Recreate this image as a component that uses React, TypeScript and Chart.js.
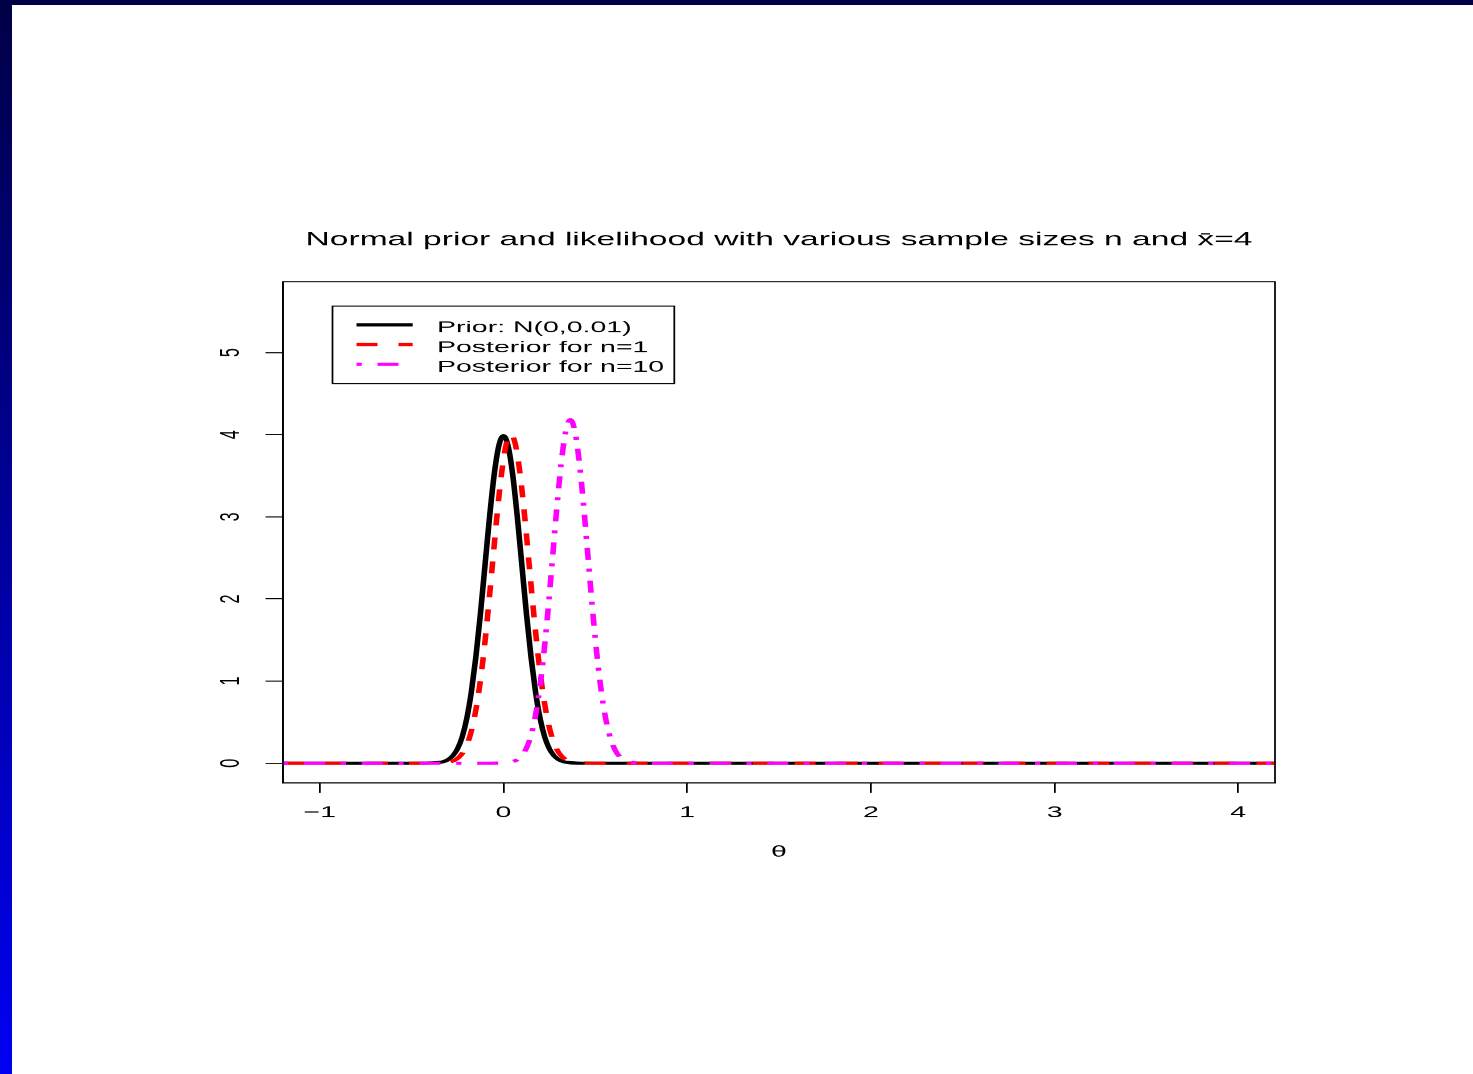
import React, { useEffect, useRef } from "react";
import { Chart, registerables } from "chart.js";

Chart.register(...registerables);

// ---------- data ----------
const xTickValues = [-1, 0, 1, 2, 3, 4];
const yTickValues = [0, 1, 2, 3, 4, 5];

const seriesLabels = ["Prior: N(0,0.01)", "Posterior for n=1", "Posterior for n=10"];
const titleText = "Normal prior and likelihood with various sample sizes n and x\u0304=4";
const xAxisTitle = "\u03b8";

const priorX = [-1.2, -0.45, -0.4, -0.35, -0.325, -0.3, -0.275, -0.25, -0.225, -0.2, -0.175, -0.15, -0.125, -0.1, -0.075, -0.05, -0.025, 0, 0.025, 0.05, 0.075, 0.1, 0.125, 0.15, 0.175, 0.2, 0.225, 0.25, 0.275, 0.3, 0.325, 0.35, 0.4, 0.45, 4.2];
const priorY = [0, 0, 0.0013, 0.0087, 0.02, 0.044, 0.091, 0.175, 0.317, 0.54, 0.863, 1.295, 1.826, 2.42, 3.011, 3.521, 3.866, 3.989, 3.866, 3.521, 3.011, 2.42, 1.826, 1.295, 0.863, 0.54, 0.317, 0.175, 0.091, 0.044, 0.02, 0.0087, 0.0013, 0, 0];

const post1X = [-1.2, -0.41, -0.36, -0.31, -0.285, -0.26, -0.235, -0.21, -0.185, -0.16, -0.135, -0.11, -0.085, -0.06, -0.035, -0.01, 0.015, 0.04, 0.065, 0.09, 0.115, 0.14, 0.165, 0.19, 0.215, 0.24, 0.265, 0.29, 0.315, 0.34, 0.365, 0.39, 0.44, 0.49, 4.2];
const post1Y = [0, 0, 0.0012, 0.0083, 0.0193, 0.0426, 0.088, 0.171, 0.311, 0.532, 0.854, 1.287, 1.821, 2.42, 3.018, 3.534, 3.884, 4.009, 3.884, 3.534, 3.018, 2.42, 1.821, 1.287, 0.854, 0.532, 0.311, 0.171, 0.088, 0.0426, 0.0193, 0.0083, 0.0012, 0, 0];

const post10X = [-1.2, -0.086, -0.036, 0.014, 0.039, 0.064, 0.089, 0.114, 0.139, 0.164, 0.189, 0.214, 0.239, 0.264, 0.289, 0.314, 0.339, 0.364, 0.389, 0.414, 0.439, 0.464, 0.489, 0.514, 0.539, 0.564, 0.589, 0.614, 0.639, 0.664, 0.689, 0.714, 0.764, 0.814, 4.2];
const post10Y = [0, 0, 0.0006, 0.005, 0.0125, 0.0296, 0.0655, 0.134, 0.259, 0.464, 0.776, 1.214, 1.772, 2.414, 3.071, 3.646, 4.043, 4.184, 4.043, 3.646, 3.071, 2.414, 1.772, 1.214, 0.776, 0.464, 0.259, 0.134, 0.0655, 0.0296, 0.0125, 0.005, 0.0006, 0, 0];

// ---------- layout ----------
const PAGE_W = 1473;
const PAGE_H = 1074;
const LW = 842; // logical width, stretched horizontally
const SX = PAGE_W / LW;
const FONT = '"Liberation Sans", Arial, Helvetica, sans-serif';

const AREA_LEFT = 283 / SX;
const AREA_RIGHT = 1275 / SX;
const AREA_TOP = 281.5;
const AREA_BOTTOM = 782.5;
const Y_AXIS_W = 60;
const X_AXIS_H = 90;
const TITLE_SIZE = 19.2;
const TITLE_LH = 1.2;
const TITLE_CENTER_Y = 240;
const TICK_SIZE = 16.3;
const LEGEND_SIZE = 16.3;

const toPts = (xs: number[], ys: number[]) => xs.map((x, i) => ({ x, y: ys[i] }));
const fmtTick = (v: number) => (v < 0 ? "\u2212" + Math.abs(v) : String(v));

const boxPlugin = {
  id: "rbox",
  afterDraw(chart: any) {
    const { ctx, chartArea } = chart;
    ctx.save();
    ctx.strokeStyle = "#000";
    ctx.lineWidth = 1;
    ctx.setLineDash([]);
    ctx.strokeRect(chartArea.left, chartArea.top, chartArea.right - chartArea.left, chartArea.bottom - chartArea.top);
    ctx.restore();
  },
};

const legendPlugin = {
  id: "rlegend",
  afterDraw(chart: any) {
    const ctx = chart.ctx;
    const l = 332.5 / SX, r = 674.3 / SX, t = 306, b = 383.5;
    ctx.save();
    ctx.setLineDash([]);
    ctx.strokeStyle = "#000";
    ctx.lineWidth = 1;
    ctx.strokeRect(l, t, r - l, b - t);
    chart.data.datasets.forEach((ds: any, i: number) => {
      const base = 332.3 + i * 19.7;
      const ly = base - 7.6;
      ctx.beginPath();
      ctx.setLineDash(ds.borderDash || []);
      ctx.lineWidth = ds.borderWidth;
      ctx.strokeStyle = ds.borderColor;
      ctx.lineCap = "butt";
      ctx.moveTo(356.5 / SX, ly);
      ctx.lineTo(412.7 / SX, ly);
      ctx.stroke();
      ctx.setLineDash([]);
      ctx.fillStyle = "#000";
      ctx.font = `${LEGEND_SIZE}px ${FONT}`;
      ctx.textAlign = "left";
      ctx.textBaseline = "alphabetic";
      ctx.fillText(ds.label, 437 / SX, base);
    });
    ctx.restore();
  },
};

export default function App() {
  const canvasRef = useRef<HTMLCanvasElement | null>(null);

  useEffect(() => {
    if (!canvasRef.current) return;
    const chart = new Chart(canvasRef.current, {
      type: "line",
      data: {
        datasets: [
          {
            label: seriesLabels[0],
            data: toPts(priorX, priorY),
            borderColor: "#000000",
            borderWidth: 3.2,
            borderDash: [],
            pointRadius: 0,
            cubicInterpolationMode: "monotone",
            clip: 0,
            order: 3,
          },
          {
            label: seriesLabels[1],
            data: toPts(post1X, post1Y),
            borderColor: "#ff0000",
            borderWidth: 3.2,
            borderDash: [12, 12],
            borderCapStyle: "butt",
            pointRadius: 0,
            cubicInterpolationMode: "monotone",
            clip: 0,
            order: 2,
          },
          {
            label: seriesLabels[2],
            data: toPts(post10X, post10Y),
            borderColor: "#ff00ff",
            borderWidth: 3.2,
            borderDash: [3, 9, 12, 9],
            borderCapStyle: "butt",
            pointRadius: 0,
            cubicInterpolationMode: "monotone",
            clip: 0,
            order: 1,
          },
        ] as any,
      },
      options: {
        animation: false,
        responsive: true,
        maintainAspectRatio: false,
        devicePixelRatio: SX,
        events: [],
        layout: {
          padding: {
            left: AREA_LEFT - Y_AXIS_W,
            right: LW - AREA_RIGHT,
            top: TITLE_CENTER_Y - (TITLE_SIZE * TITLE_LH) / 2,
            bottom: PAGE_H - AREA_BOTTOM - X_AXIS_H,
          },
        },
        plugins: {
          legend: { display: false },
          tooltip: { enabled: false },
          title: {
            display: true,
            text: titleText,
            fullSize: false,
            color: "#000",
            font: { family: FONT, size: TITLE_SIZE, weight: "normal", lineHeight: TITLE_LH },
            padding: { top: 0, bottom: AREA_TOP - TITLE_CENTER_Y - (TITLE_SIZE * TITLE_LH) / 2 },
          },
        },
        scales: {
          x: {
            type: "linear",
            min: -1.2,
            max: 4.2,
            afterBuildTicks: (s: any) => {
              s.ticks = xTickValues.map((v) => ({ value: v }));
            },
            afterFit: (s: any) => {
              s.height = X_AXIS_H;
            },
            ticks: {
              color: "#000",
              font: { family: FONT, size: TICK_SIZE },
              padding: 10,
              maxRotation: 0,
              minRotation: 0,
              autoSkip: false,
              callback: (v: any) => fmtTick(Number(v)),
            },
            grid: { display: true, drawOnChartArea: false, drawTicks: true, tickLength: 10, color: "#000", lineWidth: 1 },
            border: { display: true, color: "#000", width: 1 },
            title: {
              display: true,
              text: xAxisTitle,
              color: "#000",
              font: { family: FONT, size: TICK_SIZE },
              padding: { top: 0, bottom: 11 },
            },
          },
          y: {
            type: "linear",
            min: -0.24,
            max: 5.865,
            afterBuildTicks: (s: any) => {
              s.ticks = yTickValues.map((v) => ({ value: v }));
            },
            afterFit: (s: any) => {
              s.width = Y_AXIS_W;
            },
            ticks: {
              color: "#000",
              font: { family: FONT, size: TICK_SIZE },
              padding: 15.3,
              minRotation: 90,
              maxRotation: 90,
              crossAlign: "center",
              autoSkip: false,
              callback: (v: any) => fmtTick(Number(v)),
            },
            grid: { display: true, drawOnChartArea: false, drawTicks: true, tickLength: 10, color: "#000", lineWidth: 1 },
            border: { display: true, color: "#000", width: 1 },
          },
        },
      } as any,
      plugins: [boxPlugin, legendPlugin],
    });
    return () => chart.destroy();
  }, []);

  return (
    <div
      style={{
        position: "fixed",
        left: 0,
        top: 0,
        width: PAGE_W,
        height: PAGE_H,
        background: "#ffffff",
        overflow: "hidden",
      }}
    >
      <div
        style={{
          position: "absolute",
          left: 0,
          top: 0,
          width: LW,
          height: PAGE_H,
          transform: `scaleX(${SX})`,
          transformOrigin: "0 0",
        }}
      >
        <canvas ref={canvasRef} />
      </div>
      <div style={{ position: "absolute", left: 0, top: 0, width: PAGE_W, height: 5, background: "#000046" }} />
      <div
        style={{
          position: "absolute",
          left: 0,
          top: 0,
          width: 12,
          height: PAGE_H,
          background: "linear-gradient(to bottom, #000046 0%, #0000f2 100%)",
        }}
      />
    </div>
  );
}
